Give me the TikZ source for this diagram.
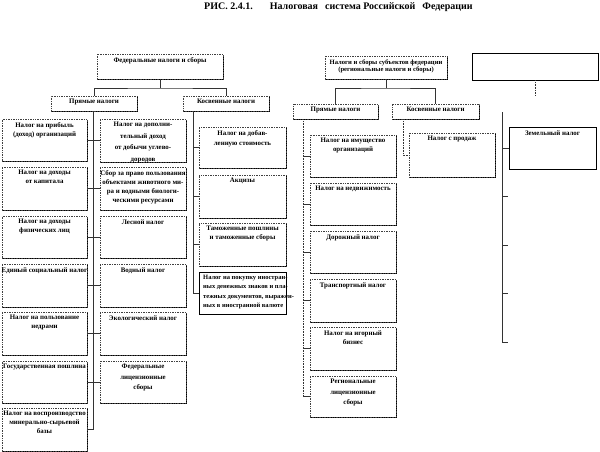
\documentclass[tikz,border=0pt]{standalone}
\usepackage{fontspec}
\setmainfont{Liberation Serif}
\usetikzlibrary{shadows}
\tikzset{
  box/.style={rectangle, draw=black!75, densely dotted, line width=0.7pt, fill=white, inner sep=0pt,
    drop shadow={shadow xshift=0.9pt, shadow yshift=-0.9pt, fill=black, opacity=1}},
  sbox/.style={rectangle, draw=black, solid, line width=0.8pt, fill=white, inner sep=0pt,
    drop shadow={shadow xshift=0.7pt, shadow yshift=-0.7pt, fill=black, opacity=1}},
  txt/.style={font=\bfseries\fontsize{6.9}{9}\selectfont, align=center, inner sep=0pt, anchor=north},
  conn/.style={draw=black!80, line width=0.6pt},
}
\newcommand\tb[8][]{%
  \node[#2, minimum width={#6-#4}, minimum height={#7-#5}] (#3) at ({(#4+#6)/2},{(#5+#7)/2}) {};
  \node[txt,#1] (#3t) at ([yshift=-3.5pt]#3.north) {#8};}
\begin{document}
\begin{tikzpicture}[x=1pt,y=-1pt]
\useasboundingbox (0,0) rectangle (600,452);
\node[font=\bfseries\fontsize{10}{11}\selectfont, anchor=west, inner sep=0pt] (title) at (204,7)
  {РИС. 2.4.1.\hspace{17pt}Налоговая\hspace{7pt}система Российской\hspace{7pt}Федерации};
% top level
\tb{box}{fed}{97}{54}{223}{79}{Федеральные налоги и сборы}
\tb[font=\bfseries\fontsize{6.6}{7.5}\selectfont]{box}{reg}{325}{56}{447}{79}{Налоги и сборы субъектов федерации\\(региональные налоги и сборы)}
\tb{sbox}{loc}{472}{53}{598}{80}{}
% second level
\tb[yshift=0.8pt]{box}{fdir}{51}{96}{137}{111}{Прямые налоги}
\tb[yshift=0.8pt]{box}{find}{183}{96}{269}{111}{Косвенные налоги}
\tb[yshift=0.8pt]{box}{rdir}{293}{104}{378}{119}{Прямые налоги}
\tb[yshift=0.8pt]{box}{rind}{392}{104}{479}{119}{Косвенные налоги}
% federal direct, left column
\tb{box}{l1}{2}{119}{87}{161}{Налог на прибыль\\(доход) организаций}
\tb{box}{l2}{2}{167}{87}{210}{Налог на доходы\\от капитала}
\tb{box}{l3}{2}{216}{87}{258}{Налог на доходы\\физических лиц}
\tb{box}{l4}{2}{264}{87}{307}{Единый социальный налог}
\tb{box}{l5}{2}{312}{87}{355}{Налог на пользование\\недрами}
\tb{box}{l6}{2}{361}{87}{403}{Государственная пошлина}
\tb{box}{l7}{2}{408}{87}{451}{Налог на воспроизводство\\минерально-сырьевой\\базы}
% federal direct, right column
\tb[font=\bfseries\fontsize{6.9}{11.5}\selectfont]{box}{r1}{100}{119}{186}{162}{Налог на дополни-\\тельный доход\\от добычи углево-\\дородов}
\tb{box}{r2}{100}{167}{186}{210}{Сбор за право пользования\\объектами животного ми-\\ра и водными биологи-\\ческими ресурсами}
\tb{box}{r3}{100}{216}{186}{258}{Лесной налог}
\tb{box}{r4}{100}{264}{186}{307}{Водный налог}
\tb{box}{r5}{100}{312}{186}{355}{Экологический налог}
\tb[font=\bfseries\fontsize{6.9}{10.5}\selectfont]{box}{r6}{100}{361}{186}{403}{Федеральные\\лицензионные\\сборы}
% federal indirect
\tb[font=\bfseries\fontsize{6.9}{10}\selectfont]{box}{i1}{199}{127}{286}{168}{Налог на добав-\\ленную стоимость}
\tb{box}{i2}{199}{175}{286}{218}{Акцизы}
\tb{box}{i3}{199}{223}{286}{266}{Таможенные пошлины\\и таможенные сборы}
\tb[font=\bfseries\fontsize{6.5}{9.3}\selectfont, align=left, anchor=north west, xshift=-39.5pt]{sbox}{i4}{199}{272}{286}{314}{Налог на покупку иностран-\\ных денежных знаков и пла-\\тежных документов, выражен-\\ных в иностранной валюте}
% regional direct
\tb{box}{rd1}{310}{135}{396}{177}{Налог на имущество\\организаций}
\tb{box}{rd2}{310}{183}{396}{225}{Налог на недвижимость}
\tb{box}{rd3}{310}{231}{396}{273}{Дорожный налог}
\tb{box}{rd4}{310}{279}{396}{322}{Транспортный налог}
\tb{box}{rd5}{310}{327}{396}{370}{Налог на игорный\\бизнес}
\tb[font=\bfseries\fontsize{6.9}{10.5}\selectfont]{box}{rd6}{310}{376}{396}{417}{Региональные\\лицензионные\\сборы}
% regional indirect
\tb{box}{ri1}{409}{133}{495}{177}{Налог с продаж}
% right column
\tb{sbox}{z}{509}{127}{596}{169}{Земельный налог}
% ---- connectors ----
\coordinate (fj) at (160,88);
\draw[conn] (fed.south) -- (fj);
\draw[conn] (fdir.north) |- (fj) -| (find.north);
\coordinate (rj) at (386,88);
\draw[conn] (reg.south) -- (rj);
\draw[conn] (rdir.north) |- (rj) -| (rind.north);
% federal direct trunk
\coordinate (fdb) at (93,430);
\draw[conn] (fdir.south -| fdb) -- (fdb);
\foreach \n in {l1,l2,l3,l4,l5,l6,l7} \draw[conn] (\n.east) -- (\n.east -| fdb);
\foreach \n in {r1,r2,r3,r4,r5,r6} \draw[conn] (\n.west) -- (\n.west -| fdb);
% federal indirect trunk
\coordinate (fib) at (193,293);
\draw[conn] (find.south -| fib) -- (fib);
\foreach \n in {i1,i2,i3,i4} \draw[conn] (\n.west) -- (\n.west -| fib);
% regional direct trunk
\coordinate (rdb) at (303,397);
\draw[conn, densely dotted] (rdir.south -| rdb) -- (rdb);
\foreach \n in {rd1,rd2,rd3,rd4,rd5,rd6} \draw[conn] (\n.west) -- (\n.west -| rdb);
% regional indirect
\coordinate (rib) at (403,156);
\draw[conn, densely dotted] (rind.south -| rib) |- (ri1.west);
% third box
\coordinate (le) at (535,95);
\draw[conn, densely dotted] (loc.south -| le) -- (le);
\coordinate (zt) at (502,112);
\coordinate (zb) at (502,342);
\draw[conn] (zt) -- (zb);
\draw[conn] (z.west -| zt) -- (z.west);
\coordinate (s2) at (508,196);
\coordinate (s3) at (508,245);
\coordinate (s4) at (508,293);
\coordinate (s5) at (508,342);
\foreach \s in {s2,s3,s4,s5} \draw[conn] (\s -| zt) -- (\s);
\end{tikzpicture}
\end{document}
